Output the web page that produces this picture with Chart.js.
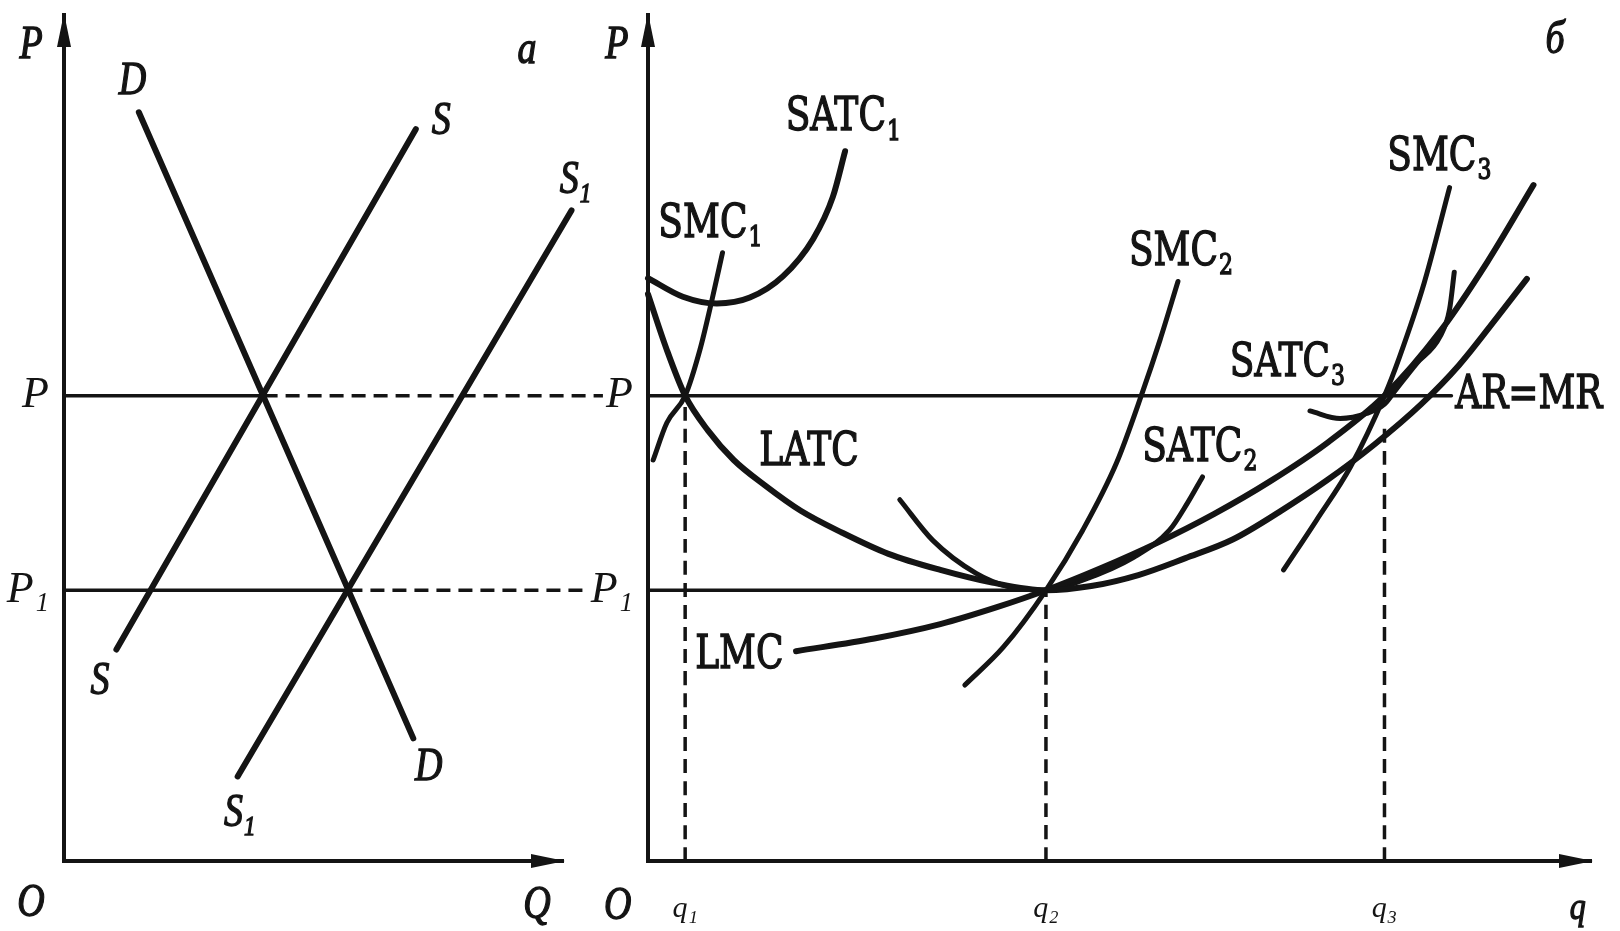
<!DOCTYPE html>
<html lang="ru">
<head>
<meta charset="UTF-8">
<title>Market and firm: long-run equilibrium</title>
<style>
  html, body { margin: 0; padding: 0; background: #fff; }
  #wrap { position: relative; width: 1620px; height: 931px; overflow: hidden; background: #fff; }
  canvas { position: absolute; top: 0; }
  #marketChart { left: 0; }
  #firmChart { left: 560px; }
</style>
</head>
<body>
<div id="wrap">
  <canvas id="marketChart" width="620" height="931"></canvas>
  <canvas id="firmChart" width="1060" height="931"></canvas>
</div>

<script src="https://cdn.jsdelivr.net/npm/chart.js@4.4.1/dist/chart.umd.min.js"></script>

<script>
  // price levels, same in both panels
  const P_HIGH = 55;
  const P_LOW = 32;

  // panel a: market demand and supply (Q, P)
  const demandQ = [15, 70];
  const demandP = [88.5, 14.5];
  const supplyQ = [10.5, 70.5];
  const supplyP = [25, 86.5];
  const supply1Q = [34.8, 101.7];
  const supply1P = [10, 76.9];
  const marketEqQ = [40, 57];        // D meets S at P, D meets S1 at P1
  const marketDashEnd = [108, 104];  // dashed guides run over to panel b

  // panel b: firm cost curves (q, P)
  const qTicks = [3.94, 42.2, 78.1];
  const qTickLabels = ['q\u2081', 'q\u2082', 'q\u2083'];
  const pTicks = [P_LOW, P_HIGH];
  const pTickLabels = ['P\u2081', 'P'];

  const latcQ = [0, 1.97, 3.94, 6.35, 9.09, 12.4, 16.2, 20.6, 25.5, 31.0, 36.5, 42.2, 47, 52, 57, 62, 67, 72, 77, 82, 86, 90, 93.2];
  const latcP = [67.0, 60.5, 55.0, 50.9, 47.4, 44.4, 41.4, 38.8, 36.3, 34.4, 32.9, 32.0, 32.5, 33.8, 35.8, 38.0, 41.3, 45.0, 49.2, 54.0, 58.6, 64.2, 68.8];
  const lmcQ = [15.7, 24, 31, 37, 42.2, 48, 54, 60, 66, 72, 78.1, 84, 89, 93.9];
  const lmcP = [24.8, 26.3, 28.0, 30.0, 32, 34.6, 37.6, 41.0, 44.9, 49.4, 55, 62.6, 70.8, 79.9];
  const smc1Q = [0.55, 2.0, 3.94, 5.5, 6.8, 7.9];
  const smc1P = [47.4, 51.8, 55, 60.4, 66.4, 71.9];
  const satc1Q = [0, 3.7, 7.3, 10.8, 14.3, 17.5, 19.6, 20.9];
  const satc1P = [68.9, 66.7, 65.9, 66.6, 69.1, 73.5, 78.5, 83.9];
  const smc2Q = [33.6, 37.7, 42.2, 46.1, 49.7, 52.4, 54.3, 56.2];
  const smc2P = [20.8, 25.3, 32, 39.1, 47.1, 55.3, 61.6, 68.5];
  const satc2Q = [26.7, 30.2, 34.8, 38.3, 42.2, 46.1, 51.5, 55.3, 57.2, 58.8];
  const satc2P = [42.7, 37.9, 34.0, 32.4, 32, 33.2, 35.9, 39.1, 42.3, 45.4];
  const smc3Q = [67.4, 70.9, 74.5, 78.1, 79.7, 82.3, 85.0];
  const smc3P = [34.4, 40.3, 46.6, 55, 59.6, 68.3, 79.6];
  const satc3Q = [70.2, 73.4, 76.2, 78.1, 79.1, 81.5, 84.0, 85.0, 85.5];
  const satc3P = [53.2, 52.3, 52.9, 54.0, 55.4, 58.8, 62.0, 65.2, 69.6];

  const priceLineEnd = 85.2;        // AR = MR line
  const qGuideTop = [P_HIGH, P_LOW, 52];

  const INK = '#141414';
  const ITALIC = { family: '"Liberation Serif", "DejaVu Serif", serif', style: 'italic', size: 38, stretch: 1.2 };
  const ROMAN = { family: '"DejaVu Serif", "Liberation Serif", serif', style: 'normal', size: 36, stretch: 1.3 };

  // text annotations, in data units of each panel
  const marketLabels = [
    { text: 'P', x: -6.6, y: 96.3 },
    { text: '\u0430', x: 92.8, y: 95.7 },
    { text: 'D', x: 13.7, y: 92.1 },
    { text: 'S', x: 75.6, y: 87.4 },
    { text: 'S', sub: '1', x: 102.5, y: 80.4 },
    { text: 'S', x: 7.2, y: 21.1 },
    { text: 'S', sub: '1', x: 35.2, y: 5.5 },
    { text: 'D', x: 73.1, y: 11.0 },
    { text: 'O', x: -6.6, y: -5.1 },
    { text: 'Q', x: 94.8, y: -5.3 }
  ];
  const firmLabels = [
    { text: 'P', x: -3.3, y: 96.3 },
    { text: '\u0431', x: 96.2, y: 96.9 },
    { text: 'O', x: -3.2, y: -5.4 },
    { text: 'q', x: 98.6, y: -5.7, size: 32 },
    { text: 'SATC', sub: '1', x: 14.6, y: 87.8, roman: true },
    { text: 'SMC', sub: '1', x: 1.1, y: 75.2, roman: true },
    { text: 'SMC', sub: '2', x: 51.0, y: 71.9, roman: true },
    { text: 'SMC', sub: '3', x: 78.4, y: 83.1, roman: true },
    { text: 'SATC', sub: '3', x: 61.7, y: 58.8, roman: true },
    { text: 'SATC', sub: '2', x: 52.4, y: 48.7, roman: true },
    { text: 'LATC', x: 11.8, y: 48.3, roman: true },
    { text: 'LMC', x: 5.0, y: 24.2, roman: true },
    { text: 'AR=MR', x: 85.6, y: P_HIGH, roman: true }
  ];

  function pts(xs, ys) {
    return xs.map((x, i) => ({ x: x, y: ys[i] }));
  }

  function curve(data, width) {
    return {
      data: data,
      showLine: true,
      borderColor: INK,
      borderWidth: width || 6,
      borderCapStyle: 'round',
      pointRadius: 0,
      cubicInterpolationMode: 'monotone',
      clip: false
    };
  }

  function dashed(data) {
    return Object.assign(curve(data, 3.5), { borderDash: [14, 8], borderCapStyle: 'butt' });
  }

  function drawLabel(ctx, l, px, py) {
    const f = l.roman ? ROMAN : ITALIC;
    const size = l.size || f.size;
    const subSize = Math.round(size * 0.6);
    ctx.save();
    ctx.translate(px, py);
    ctx.scale(1, f.stretch);
    ctx.textBaseline = 'middle';
    ctx.textAlign = 'left';
    ctx.lineWidth = 1.1;
    ctx.strokeStyle = INK;
    ctx.font = f.style + ' ' + size + 'px ' + f.family;
    const w = ctx.measureText(l.text).width;
    let sw = 0;
    if (l.sub) {
      ctx.font = f.style + ' ' + subSize + 'px ' + f.family;
      sw = ctx.measureText(l.sub).width + 1;
    }
    const x0 = l.roman ? 0 : -(w + sw) / 2;
    ctx.font = f.style + ' ' + size + 'px ' + f.family;
    ctx.fillText(l.text, x0, 0);
    ctx.strokeText(l.text, x0, 0);
    if (l.sub) {
      ctx.font = f.style + ' ' + subSize + 'px ' + f.family;
      ctx.fillText(l.sub, x0 + w + 1, size * 0.3);
      ctx.strokeText(l.sub, x0 + w + 1, size * 0.3);
    }
    ctx.restore();
  }

  const panelText = {
    id: 'panelText',
    afterDatasetsDraw(chart, args, opts) {
      const { ctx, chartArea: a, scales } = chart;
      ctx.save();
      ctx.fillStyle = INK;
      // arrow heads
      ctx.beginPath();
      ctx.moveTo(a.left, a.top - 2);
      ctx.lineTo(a.left - 7, a.top + 32);
      ctx.lineTo(a.left + 7, a.top + 32);
      ctx.closePath();
      ctx.fill();
      ctx.beginPath();
      ctx.moveTo(a.right + 2, a.bottom);
      ctx.lineTo(a.right - 32, a.bottom - 7);
      ctx.lineTo(a.right - 32, a.bottom + 7);
      ctx.closePath();
      ctx.fill();
      opts.labels.forEach(l => drawLabel(ctx, l, scales.x.getPixelForValue(l.x), scales.y.getPixelForValue(l.y)));
      ctx.restore();
    }
  };

  // keep the plot area fixed: no extra room for tick label overhang
  function noOverhang(axis) {
    axis.paddingTop = 0;
    axis.paddingBottom = 0;
    axis.paddingLeft = 0;
    axis.paddingRight = 0;
  }

  function scales(yWidth, xTicks, xLabels) {
    return {
      x: {
        type: 'linear', min: 0, max: 100,
        grid: { display: false, drawTicks: false },
        border: { display: true, color: INK, width: 4 },
        afterBuildTicks: axis => { axis.ticks = xTicks.map(v => ({ value: v })); },
        afterFit: axis => { axis.height = 70; noOverhang(axis); },
        ticks: {
          display: xTicks.length > 0,
          autoSkip: false, maxRotation: 0, padding: 30, color: INK,
          font: { family: '"Liberation Serif", serif', style: 'italic', size: 30 },
          callback: v => xLabels[xTicks.indexOf(v)] || ''
        }
      },
      y: {
        type: 'linear', min: 0, max: 100,
        grid: { display: false, drawTicks: false },
        border: { display: true, color: INK, width: 4 },
        afterBuildTicks: axis => { axis.ticks = pTicks.map(v => ({ value: v })); },
        afterFit: axis => { axis.width = yWidth; noOverhang(axis); },
        ticks: {
          autoSkip: false, padding: 15, color: INK,
          font: { family: '"Liberation Serif", serif', style: 'italic', size: 44 },
          callback: v => pTickLabels[pTicks.indexOf(v)] || ''
        }
      }
    };
  }

  function baseOptions(padRight, yWidth, xTicks, xLabels, labels) {
    return {
      responsive: false,
      animation: false,
      devicePixelRatio: 1,
      events: [],
      layout: { padding: { top: 15, right: padRight, bottom: 0, left: 0 } },
      plugins: {
        legend: { display: false },
        tooltip: { enabled: false },
        panelText: { labels: labels }
      },
      scales: scales(yWidth, xTicks, xLabels)
    };
  }

  new Chart(document.getElementById('marketChart'), {
    type: 'scatter',
    data: {
      datasets: [
        curve(pts(demandQ, demandP)),
        curve(pts(supplyQ, supplyP)),
        curve(pts(supply1Q, supply1P)),
        curve(pts([0, marketEqQ[0]], [P_HIGH, P_HIGH]), 3.5),
        dashed(pts([marketEqQ[0], marketDashEnd[0]], [P_HIGH, P_HIGH])),
        curve(pts([0, marketEqQ[1]], [P_LOW, P_LOW]), 3.5),
        dashed(pts([marketEqQ[1], marketDashEnd[1]], [P_LOW, P_LOW]))
      ]
    },
    options: baseOptions(57, 64, [], [], marketLabels),
    plugins: [panelText]
  });

  new Chart(document.getElementById('firmChart'), {
    type: 'scatter',
    data: {
      datasets: [
        curve(pts([0, priceLineEnd], [P_HIGH, P_HIGH]), 3.5),
        curve(pts([0, qTicks[1]], [P_LOW, P_LOW]), 3.5),
        ...qTicks.map((q, i) => dashed(pts([q, q], [0, qGuideTop[i]]))),
        curve(pts(latcQ, latcP), 6),
        curve(pts(lmcQ, lmcP), 6),
        curve(pts(smc1Q, smc1P), 5),
        curve(pts(satc1Q, satc1P), 6),
        curve(pts(smc2Q, smc2P), 5),
        curve(pts(satc2Q, satc2P), 5),
        curve(pts(smc3Q, smc3P), 5),
        curve(pts(satc3Q, satc3P), 5)
      ]
    },
    options: baseOptions(29, 88, qTicks, qTickLabels, firmLabels),
    plugins: [panelText]
  });
</script>
</body>
</html>
